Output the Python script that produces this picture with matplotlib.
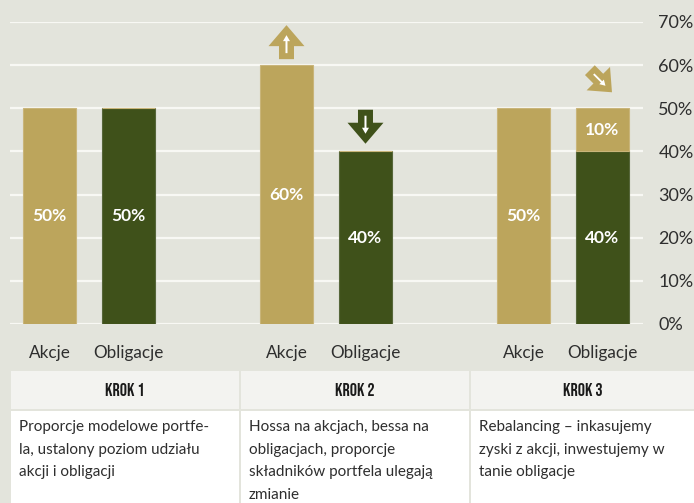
import numpy as np
import matplotlib
matplotlib.use("Agg")
import matplotlib.pyplot as plt
import matplotlib.transforms as mtransforms
from matplotlib.patches import Polygon, Rectangle

# ---- data ----
steps = ["KROK 1", "KROK 2", "KROK 3"]
categories = ["Akcje", "Obligacje"]
akcje = [50, 60, 50]
obligacje = [50, 40, 40]
nadwyzka = [0, 0, 10]          # gold portion stacked on Obligacje (step 3)
y_ticks = [0, 10, 20, 30, 40, 50, 60, 70]
descriptions = [
    "Proporcje modelowe portfe-\nla, ustalony poziom udziału\nakcji i obligacji",
    "Hossa na akcjach, bessa na\nobligacjach, proporcje\nskładników portfela ulegają\nzmianie",
    "Rebalancing – inkasujemy\nzyski z akcji, inwestujemy w\ntanie obligacje",
]
# arrows: (step index, category index, direction)
arrows = [(1, 0, "up"), (1, 1, "down"), (2, 1, "diag")]

# ---- style ----
BG = "#e3e4dc"
GOLD = "#bca55c"
GREEN = "#3f511a"
TXT = "#2e2e2e"
W, H = 694, 503
FONT = ["Lato", "DejaVu Sans"]

plt.rcParams["font.family"] = FONT

fig = plt.figure(figsize=(W / 100, H / 100), dpi=100, facecolor=BG)
ax = fig.add_axes([10 / W, (H - 324) / H, 633 / W, 302 / H])
ax.set_facecolor("none")

group_gap = 3.0
bar_w = 53 / 79
xa = np.arange(len(steps)) * group_gap
xo = xa + 1.0

ax.bar(xa, akcje, width=bar_w, color=GOLD, edgecolor="#c9b57a", linewidth=0.8, zorder=3)
ax.bar(xo, obligacje, width=bar_w, color=GREEN, edgecolor="#56663a", linewidth=0.8, zorder=3)
ax.bar(xo, nadwyzka, bottom=obligacje, width=bar_w, color=GOLD, edgecolor="#c9b57a",
       linewidth=0.8, zorder=3)

lab_kw = dict(ha="center", va="center", color="white", fontsize=12.5, fontweight="bold",
              zorder=5)
for i in range(len(steps)):
    ax.text(xa[i], akcje[i] / 2, f"{akcje[i]}%", **lab_kw)
    ax.text(xo[i], obligacje[i] / 2, f"{obligacje[i]}%", **lab_kw)
    if nadwyzka[i] > 0:
        ax.text(xo[i], obligacje[i] + nadwyzka[i] / 2, f"{nadwyzka[i]}%", **lab_kw)

ax.set_xlim(-0.5, 7.513)
ax.set_ylim(0, 70)
ax.set_yticks(y_ticks)
ax.set_yticklabels([f"{v}%" for v in y_ticks])
ax.yaxis.tick_right()
ax.tick_params(axis="y", length=0, pad=11, labelsize=13, labelcolor=TXT)
ax.set_xticks(np.concatenate([xa, xo]))
ax.set_xticklabels(categories[:1] * len(steps) + categories[1:] * len(steps))
ax.tick_params(axis="x", length=0, pad=15, labelsize=12.3, labelcolor=TXT)
ax.grid(axis="y", color="#f8f8f4", linewidth=1.6, zorder=0)
ax.set_axisbelow(True)
for s in ax.spines.values():
    s.set_visible(False)

# ---- arrows ----
outer = np.array([(0, 0), (-18, -21), (-7.5, -21), (-7.5, -34), (7.5, -34), (7.5, -21), (18, -21)])
inner = np.array([(0, -10), (3.5, -16), (1, -16), (1, -28), (-1, -28), (-1, -16), (-3.5, -16)])


def rot(pts, deg, scale):
    t = np.deg2rad(deg)
    R = np.array([[np.cos(t), -np.sin(t)], [np.sin(t), np.cos(t)]])
    return pts @ R.T * scale


for (gi, ci, d) in arrows:
    if ci == 0:
        x, top, col = xa[gi], akcje[gi], GOLD
    else:
        x, top = xo[gi], obligacje[gi] + nadwyzka[gi]
        col = GOLD if d == "diag" else GREEN
    if d == "up":
        ang, sc, off = 0, 1.0, (0, 40)
    elif d == "down":
        ang, sc, off = 180, 1.0, (0, 7.7)
    else:
        ang, sc, off = -135, 0.92, (9.5, 16)
    trans = fig.dpi_scale_trans + mtransforms.ScaledTranslation(x, top, ax.transData)
    o = (rot(outer, ang, sc) + off) / fig.dpi
    n = (rot(inner, ang, sc) + off) / fig.dpi
    ax.add_patch(Polygon(o, closed=True, facecolor=col, edgecolor="none",
                         transform=trans, clip_on=False, zorder=6))
    ax.add_patch(Polygon(n, closed=True, facecolor="white", edgecolor="none",
                         transform=trans, clip_on=False, zorder=7))

# ---- table ----
cols = [(11, 239), (241, 469), (471, 694)]


def frect(x0, y0, x1, y1, color):
    fig.add_artist(Rectangle((x0 / W, 1 - y1 / H), (x1 - x0) / W, (y1 - y0) / H,
                             transform=fig.transFigure, facecolor=color, edgecolor="none"))


for i, (c0, c1) in enumerate(cols):
    frect(c0, 371, c1, 408.5, "#f3f3f0")
    frect(c0, 411, c1, 503, "#ffffff")
    fig.text(((c0 + c1) / 2) / W, 1 - 390 / H, steps[i], ha="center", va="center",
             fontsize=13, color="#1a1a1a", family=["Bebas Neue", "DejaVu Sans"])
    fig.text((c0 + 8) / W, 1 - 420.5 / H, descriptions[i], ha="left", va="top",
             fontsize=11, color=TXT, linespacing=1.77)

fig.savefig("out.png", dpi=100, facecolor=BG)
